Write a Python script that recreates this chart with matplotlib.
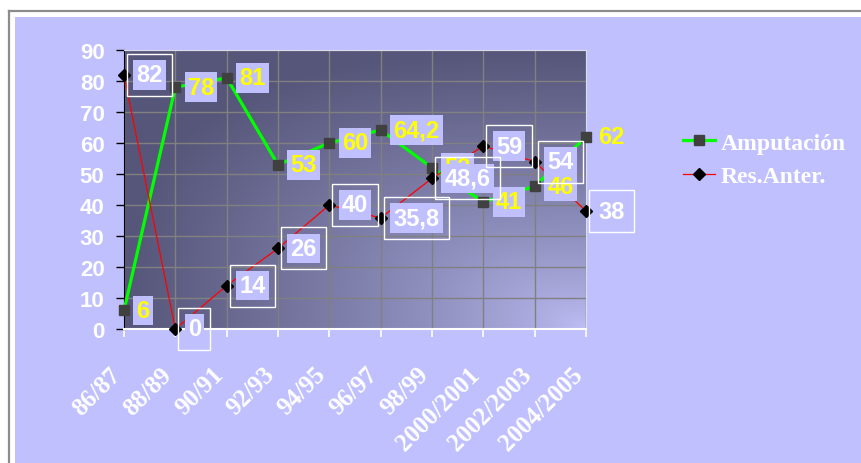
import numpy as np
import matplotlib
matplotlib.use("Agg")
import matplotlib.pyplot as plt
from matplotlib.lines import Line2D
from matplotlib.patches import Rectangle
from matplotlib.transforms import ScaledTranslation

# Data
years = ["86/87", "88/89", "90/91", "92/93", "94/95", "96/97", "98/99",
         "2000/2001", "2002/2003", "2004/2005"]
amputacion = [6, 78, 81, 53, 60, 64.2, 52, 41, 46, 62]
res_anter = [82, 0, 14, 26, 40, 35.8, 48.6, 59, 54, 38]
y_ticks = [0, 10, 20, 30, 40, 50, 60, 70, 80, 90]

LAVENDER = "#C0C0FF"
SANS = "Liberation Sans"
SERIF = "Liberation Serif"


def fmt(v):
    if float(v).is_integer():
        return str(int(v))
    return str(v).replace(".", ",")


fig = plt.figure(figsize=(8.61, 4.64), dpi=100, facecolor="white")
W, H = 861, 464

# chart area background and its frame
fig.patches.append(Rectangle((15 / W, 0), 1, 1 - 18 / H, transform=fig.transFigure,
                             facecolor=LAVENDER, edgecolor="none", zorder=-2))
fig.lines.append(Line2D([9 / W, 1], [1 - 12 / H, 1 - 12 / H], transform=fig.transFigure,
                        color="#8c8c8c", lw=1.6, zorder=-1))
fig.lines.append(Line2D([9 / W, 9 / W], [0, 1 - 12 / H], transform=fig.transFigure,
                        color="#8c8c8c", lw=1.6, zorder=-1))

ax = fig.add_axes([124 / W, 1 - 330 / H, (586 - 124) / W, (330 - 51) / H])
x = np.arange(len(years))

# gradient plot area (dark top-left, light bottom-right)
u = np.linspace(0, 1, 300)
v = np.linspace(1, 0, 200)
U, V = np.meshgrid(u, v)
t = np.clip(((1 - U) ** 3 + V ** 3) ** (1 / 3), 0, 1) ** 0.75
dark = np.array([0x56, 0x56, 0x7A]) / 255
light = np.array([0xC0, 0xC0, 0xF8]) / 255
grad = dark[None, None, :] * t[..., None] + light[None, None, :] * (1 - t[..., None])
ax.imshow(grad, extent=(0, 9, 0, 90), aspect="auto", zorder=0, interpolation="bilinear")

ax.set_xlim(0, 9)
ax.set_ylim(0, 90)
ax.set_xticks(x)
ax.set_yticks(y_ticks)
ax.grid(True, color="#808080", lw=1)

ax.plot(x, amputacion, color="#00FF00", lw=2.3, marker="s", ms=7.5,
        mfc="#404040", mec="#404040", label="Amputación", clip_on=False, zorder=3)
ax.plot(x, res_anter, color="#FF0000", lw=0.9, marker="D", ms=6,
        mfc="black", mec="black", label="Res.Anter.", clip_on=False, zorder=3.5)

# data labels
for xi, val in zip(x, amputacion):
    ax.annotate(fmt(val), (xi, val), xytext=(9, 0), textcoords="offset points",
                ha="left", va="center", color="yellow", fontsize=17, fontweight="bold",
                family=SANS, zorder=4, annotation_clip=False,
                bbox=dict(boxstyle="square,pad=0.14", fc=LAVENDER, ec="none"))
for xi, val in zip(x, res_anter):
    ax.annotate(fmt(val), (xi, val), xytext=(9, 0), textcoords="offset points",
                ha="left", va="center", color="white", fontsize=17, fontweight="bold",
                family=SANS, zorder=5, annotation_clip=False,
                bbox=dict(boxstyle="square,pad=0.14", fc=LAVENDER, ec="none"))
    ax.annotate(fmt(val), (xi, val), xytext=(9, 0), textcoords="offset points",
                ha="left", va="center", color="none", fontsize=17, fontweight="bold",
                family=SANS, zorder=6, annotation_clip=False,
                bbox=dict(boxstyle="square,pad=0.4", fc="none", ec="white", lw=1))

# axes styling
for side in ["top", "right"]:
    ax.spines[side].set_color("#dcdcec")
ax.spines["left"].set_color("black")
ax.spines["bottom"].set_color("white")
ax.spines["bottom"].set_linewidth(1.5)
ax.tick_params(axis="y", colors="black", length=6, width=1, pad=8)
ax.tick_params(axis="x", colors="white", length=6, width=1.2, pad=18)
ax.set_yticklabels([str(v) for v in y_ticks], color="white", fontsize=16,
                   fontweight="bold", family=SANS)
ax.set_xticklabels(years, rotation=45, ha="right", va="top", rotation_mode="anchor",
                   color="white", fontsize=18, fontweight="bold", family=SERIF)
for lbl in ax.get_xticklabels():
    lbl.set_transform(lbl.get_transform() + ScaledTranslation(-0.15, 0, fig.dpi_scale_trans))

leg = ax.legend(loc="upper left", bbox_to_anchor=(683 / W, 1 - 133 / H),
                bbox_transform=fig.transFigure, frameon=False, borderpad=0,
                borderaxespad=0, handlelength=1.35, handletextpad=0.25,
                labelspacing=0.52, prop=dict(family=SERIF, weight="bold", size=17))
for txt in leg.get_texts():
    txt.set_color("white")

fig.savefig("out.png", dpi=100, facecolor=fig.get_facecolor())
